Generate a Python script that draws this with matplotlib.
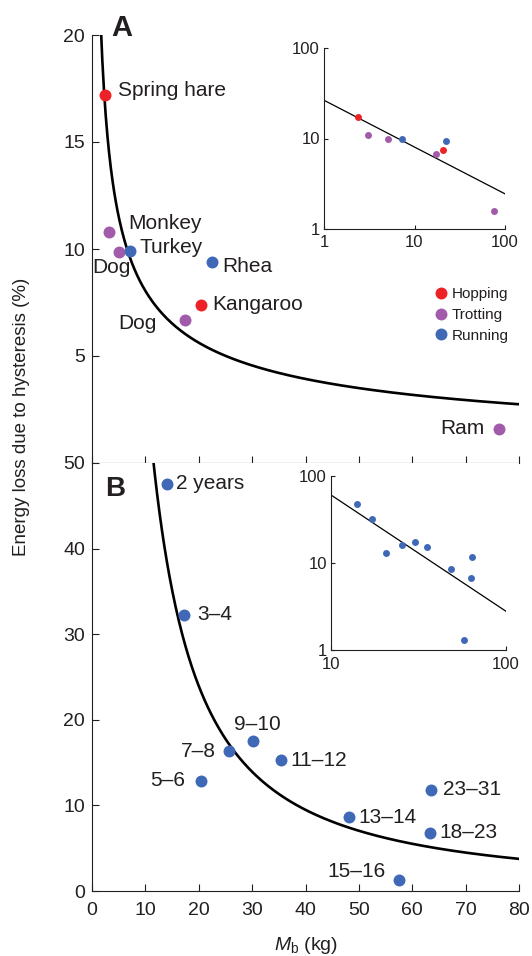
import numpy as np
import matplotlib
matplotlib.use('Agg')
import matplotlib.pyplot as plt
from matplotlib.lines import Line2D
from matplotlib.ticker import NullLocator

plt.rcParams['font.family'] = ['Liberation Sans', 'DejaVu Sans']
plt.rcParams['mathtext.fontset'] = 'custom'
plt.rcParams['mathtext.it'] = 'Liberation Sans:italic'
plt.rcParams['mathtext.rm'] = 'Liberation Sans'

tinta = '#231f20'
colores = {'Hopping': '#ec2227', 'Trotting': '#a25aab', 'Running': '#3f69b6'}

# Panel A: especies
especies = ['Spring hare', 'Monkey', 'Dog', 'Turkey', 'Dog', 'Kangaroo', 'Rhea', 'Ram']
masaA = [2.4, 3.1, 5.05, 7.2, 17.5, 20.4, 22.4, 76.2]
perdidaA = [17.2, 10.8, 9.87, 9.9, 6.7, 7.4, 9.4, 1.6]
marcha = ['Hopping', 'Trotting', 'Trotting', 'Running', 'Trotting', 'Hopping', 'Running', 'Trotting']

# Panel B: grupos de edad (años)
edades = ['2 years', '3–4', '5–6', '7–8', '9–10', '11–12', '13–14', '15–16', '18–23', '23–31']
masaB = [14.1, 17.2, 20.5, 25.6, 30.1, 35.5, 48.2, 57.6, 63.3, 63.6]
perdidaB = [47.6, 32.3, 12.9, 16.3, 17.5, 15.3, 8.6, 1.3, 6.8, 11.8]

xticks = [0, 10, 20, 30, 40, 50, 60, 70, 80]

# desplazamientos de las etiquetas (pixeles) y alineacion
despA = [(13, 4, 'left'), (20, 8, 'left'), (-8, -16, 'center'), (9, 4, 'left'),
         (-29, -4, 'right'), (11, 0, 'left'), (11, -5, 'left'), (-14, 0, 'right')]
despB = [(9, 0, 'left'), (13, 0, 'left'), (-16, 0, 'right'), (-13, 0, 'right'),
         (5, 17, 'center'), (9, 0, 'left'), (9, 0, 'left'), (-14, 8, 'right'),
         (10, 0, 'left'), (12, 0, 'left')]

W, H = 532, 956


def caja(x0, y0, x1, y1):
    # Convierte una caja en pixeles (origen arriba a la izquierda) a fraccion de figura
    return [x0 / W, 1 - y1 / H, (x1 - x0) / W, (y1 - y0) / H]


def ajuste(masa, perdida):
    # Ajuste potencial en escala log-log
    b, a = np.polyfit(np.log10(masa), np.log10(perdida), 1)
    return 10 ** a, b


def estilo(ax, tam, largo, pad):
    for lado in ['top', 'right']:
        ax.spines[lado].set_visible(False)
    for lado in ['left', 'bottom']:
        ax.spines[lado].set_color(tinta)
        ax.spines[lado].set_linewidth(0.8)
    ax.tick_params(direction='in', length=largo, width=0.8, color=tinta,
                   labelcolor=tinta, labelsize=tam, pad=pad)
    ax.xaxis.set_minor_locator(NullLocator())
    ax.yaxis.set_minor_locator(NullLocator())


fig = plt.figure(figsize=(W / 100, H / 100), dpi=100)

axA = fig.add_axes(caja(92, 35, 519, 463))
axB = fig.add_axes(caja(92, 463, 519, 891))
insA = fig.add_axes(caja(324, 48, 505, 229))
insB = fig.add_axes(caja(331, 476, 506, 650))

# ---- Panel A
cA, eA = ajuste(masaA, perdidaA)
xs = np.linspace(0.5, 80, 500)
axA.plot(xs, cA * xs ** eA, color='black', lw=1.9)
for i in range(len(especies)):
    axA.plot(masaA[i], perdidaA[i], 'o', ms=8.6, color=colores[marcha[i]], mec='none', zorder=3)
    dx, dy, ha = despA[i]
    axA.annotate(especies[i], (masaA[i], perdidaA[i]), xytext=(dx, dy),
                 textcoords='offset pixels', ha=ha, va='center', fontsize=15, color=tinta)
axA.set_xlim(0, 80)
axA.set_ylim(0, 20)
axA.set_xticks(xticks)
axA.set_xticklabels([])
axA.set_yticks([5, 10, 15, 20])
estilo(axA, 14, 5, 5)

manijas = [Line2D([], [], marker='o', ls='none', ms=8.6, color=colores[g], mec='none')
           for g in colores]
axA.legend(manijas, list(colores), loc='upper left', bbox_to_anchor=(436 / W, 1 - 287 / H),
           bbox_transform=fig.transFigure, frameon=False, fontsize=11, handlelength=0.7,
           handletextpad=0.35, labelspacing=0.45, borderpad=0, borderaxespad=0,
           labelcolor=tinta)

# ---- Panel B
cB, eB = ajuste(masaB, perdidaB)
xs = np.linspace(5, 80, 500)
axB.plot(xs, cB * xs ** eB, color='black', lw=1.9)
for i in range(len(edades)):
    axB.plot(masaB[i], perdidaB[i], 'o', ms=8.6, color=colores['Running'], mec='none', zorder=3)
    dx, dy, ha = despB[i]
    axB.annotate(edades[i], (masaB[i], perdidaB[i]), xytext=(dx, dy),
                 textcoords='offset pixels', ha=ha, va='center', fontsize=15, color=tinta)
axB.set_xlim(0, 80)
axB.set_ylim(0, 50)
axB.set_xticks(xticks)
axB.set_yticks([0, 10, 20, 30, 40, 50])
estilo(axB, 14, 5, 5)
axB.tick_params(axis='x', pad=8)

# ---- Recuadros log-log
xi = np.array([1, 100])
insA.plot(xi, cA * xi ** eA, color='black', lw=0.9)
for i in range(len(especies)):
    insA.plot(masaA[i], perdidaA[i], 'o', ms=5, color=colores[marcha[i]], mec='none', zorder=3)
insA.set_xscale('log')
insA.set_yscale('log')
insA.set_xlim(1, 100)
insA.set_ylim(1, 100)
insA.set_xticks([1, 10, 100])
insA.set_xticklabels(['1', '10', '100'])
insA.set_yticks([1, 10, 100])
insA.set_yticklabels(['1', '10', '100'])
estilo(insA, 12, 3, 3)
insA.tick_params(axis='x', pad=4)

xi = np.array([10, 100])
insB.plot(xi, cB * xi ** eB, color='black', lw=0.9)
insB.plot(masaB, perdidaB, 'o', ms=5, color=colores['Running'], mec='none', zorder=3)
insB.set_xscale('log')
insB.set_yscale('log')
insB.set_xlim(10, 100)
insB.set_ylim(1, 100)
insB.set_xticks([10, 100])
insB.set_xticklabels(['10', '100'])
insB.set_yticks([1, 10, 100])
insB.set_yticklabels(['1', '10', '100'])
estilo(insB, 12, 3, 3)
insB.tick_params(axis='x', pad=5)

# ---- Textos
fig.text(111 / W, 1 - 36 / H, 'A', fontsize=21, fontweight='bold', color=tinta)
fig.text(105 / W, 1 - 496 / H, 'B', fontsize=20, fontweight='bold', color=tinta)
fig.text(22 / W, 1 - 417 / H, 'Energy loss due to hysteresis (%)', rotation=90,
         ha='center', va='center', fontsize=13.5, color=tinta)
fig.text(306 / W, 1 - 945 / H, r'$M_\mathrm{b}$ (kg)', ha='center', va='center',
         fontsize=14, color=tinta)

fig.savefig('out.png', dpi=100)
